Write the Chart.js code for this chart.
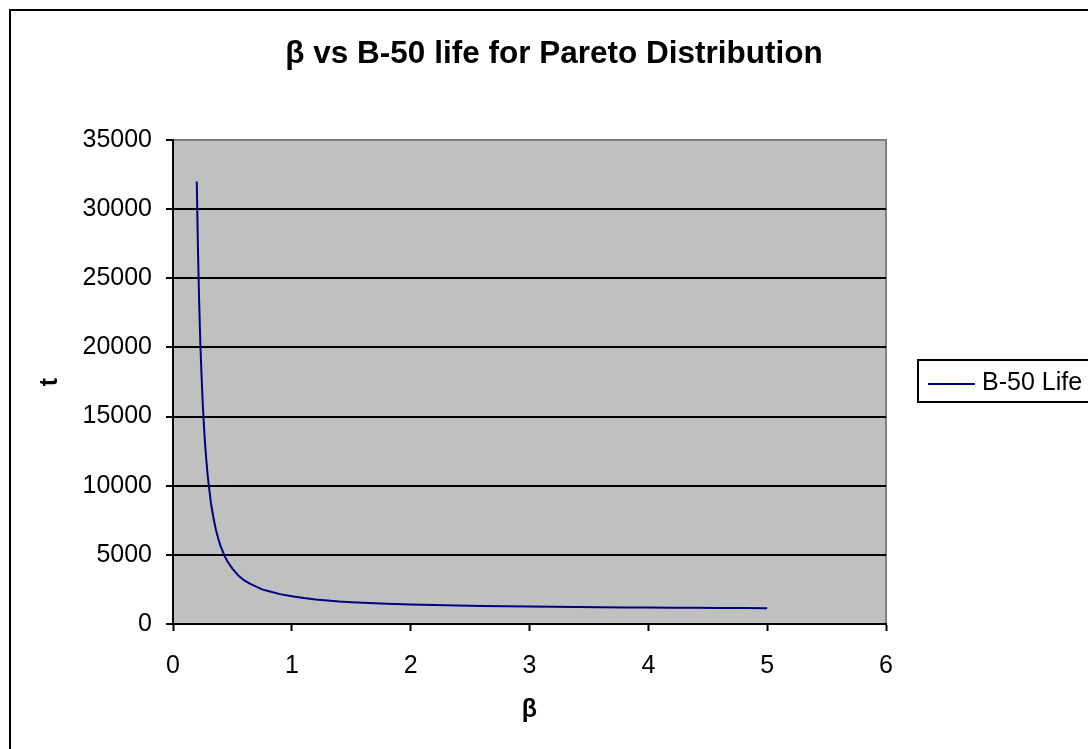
<!DOCTYPE html>
<html>
<head>
<meta charset="utf-8">
<script src="https://cdn.jsdelivr.net/npm/chart.js@4.4.1/dist/chart.umd.min.js"></script>
<style>
  html, body { margin: 0; padding: 0; background: #ffffff; }
  #wrap { width: 1088px; height: 749px; position: relative; }
</style>
</head>
<body>
<div id="wrap"><canvas id="c" width="1088" height="749"></canvas></div>
<script>
// ---- data ----
const chartTitle = "β vs B-50 life for Pareto Distribution";
const seriesName = "B-50 Life";
const xAxisTitle = "β";
const yAxisTitle = "t";
const beta = [0.2, 0.21, 0.22, 0.23, 0.24, 0.25, 0.26, 0.27, 0.28, 0.29, 0.3, 0.32, 0.34, 0.36, 0.38, 0.4, 0.43, 0.46, 0.5, 0.55, 0.6, 0.65, 0.7, 0.75, 0.8, 0.9, 1.0, 1.1, 1.2, 1.3, 1.4, 1.5, 1.6, 1.7, 1.8, 2.0, 2.2, 2.4, 2.6, 2.8, 3.0, 3.2, 3.4, 3.6, 3.8, 4.0, 4.2, 4.4, 4.6, 4.8, 5.0];
const b50Life = [32000, 27100, 23300, 20300, 18000, 16000, 14400, 13000, 11900, 10900, 10100, 8700, 7700, 6850, 6200, 5650, 5000, 4500, 4000, 3500, 3150, 2900, 2700, 2500, 2380, 2160, 2000, 1880, 1780, 1700, 1620, 1580, 1540, 1500, 1470, 1410, 1370, 1330, 1300, 1280, 1260, 1240, 1225, 1210, 1200, 1190, 1180, 1170, 1160, 1150, 1140];
const xTicks = [0, 1, 2, 3, 4, 5, 6];
const yTicks = [0, 5000, 10000, 15000, 20000, 25000, 30000, 35000];

const FONT = "'Liberation Sans', Arial, sans-serif";
const points = beta.map((b, i) => ({ x: b, y: b50Life[i] }));

const decor = {
  id: 'decor',
  beforeDraw(chart) {
    const ctx = chart.ctx;
    const a = chart.chartArea;
    ctx.save();
    ctx.fillStyle = '#ffffff';
    ctx.fillRect(0, 0, chart.width, chart.height);
    // outer chart border (cut off at right/bottom like the reference)
    ctx.strokeStyle = '#000000';
    ctx.lineWidth = 2;
    ctx.strokeRect(10, 10, 1200, 1000);
    // plot area
    ctx.fillStyle = '#C0C0C0';
    ctx.fillRect(a.left, a.top, a.right - a.left, a.bottom - a.top);
    ctx.strokeStyle = '#808080';
    ctx.lineWidth = 2;
    ctx.beginPath();
    ctx.moveTo(a.left, a.top);
    ctx.lineTo(a.right, a.top);
    ctx.lineTo(a.right, a.bottom);
    ctx.stroke();
    ctx.restore();
  },
  afterDraw(chart) {
    const ctx = chart.ctx;
    ctx.save();
    // title
    ctx.fillStyle = '#000000';
    ctx.font = "bold 31.5px " + FONT;
    ctx.textAlign = 'center';
    ctx.textBaseline = 'middle';
    ctx.fillText(chartTitle, 554, 54);
    // legend
    ctx.strokeStyle = '#000000';
    ctx.lineWidth = 2;
    ctx.strokeRect(918, 360, 400, 42);
    ctx.strokeStyle = '#000080';
    ctx.lineWidth = 2;
    ctx.beginPath();
    ctx.moveTo(928, 384);
    ctx.lineTo(975, 384);
    ctx.stroke();
    ctx.fillStyle = '#000000';
    ctx.font = "25px " + FONT;
    ctx.textAlign = 'left';
    ctx.textBaseline = 'middle';
    ctx.fillText(seriesName, 982, 383);
    ctx.restore();
  }
};

new Chart(document.getElementById('c'), {
  type: 'scatter',
  data: {
    datasets: [{
      label: seriesName,
      data: points,
      showLine: true,
      borderColor: '#000080',
      backgroundColor: '#000080',
      borderWidth: 2,
      pointRadius: 0,
      pointHoverRadius: 0,
      tension: 0
    }]
  },
  options: {
    responsive: false,
    animation: false,
    devicePixelRatio: 1,
    layout: { padding: { left: 0, top: 140, right: 202, bottom: 0 } },
    plugins: {
      legend: { display: false },
      title: { display: false },
      tooltip: { enabled: false }
    },
    scales: {
      x: {
        type: 'linear',
        min: 0, max: 6,
        afterBuildTicks(s) { s.ticks = xTicks.map(v => ({ value: v })); },
        afterFit(s) { s.height = 125; s.paddingLeft = 0; s.paddingRight = 0; },
        grid: { display: true, drawOnChartArea: false, drawTicks: true, tickLength: 7, tickWidth: 2, tickColor: '#000000' },
        border: { display: true, color: '#000000', width: 2 },
        ticks: { color: '#000000', font: { family: FONT, size: 25 }, padding: 20, maxRotation: 0 },
        title: { display: true, text: xAxisTitle, color: '#000000', font: { family: FONT, size: 25, weight: 'bold' }, padding: { top: 0, bottom: 24 } }
      },
      y: {
        type: 'linear',
        min: 0, max: 35000,
        afterBuildTicks(s) { s.ticks = yTicks.map(v => ({ value: v })); },
        afterFit(s) { s.width = 173; s.paddingTop = 0; s.paddingBottom = 0; },
        grid: {
          display: true, drawOnChartArea: true, drawTicks: true, tickLength: 7,
          color: (c) => (c.tick && c.tick.value === 35000 ? '#808080' : '#000000'),
          lineWidth: 2, tickWidth: 2, tickColor: '#000000'
        },
        border: { display: true, color: '#000000', width: 2 },
        ticks: { color: '#000000', font: { family: FONT, size: 25 }, padding: 14, callback: (v) => String(v) },
        title: { display: true, text: yAxisTitle, color: '#000000', font: { family: FONT, size: 25, weight: 'bold' }, padding: { top: 35, bottom: 0 } }
      }
    }
  },
  plugins: [decor]
});
</script>
</body>
</html>
